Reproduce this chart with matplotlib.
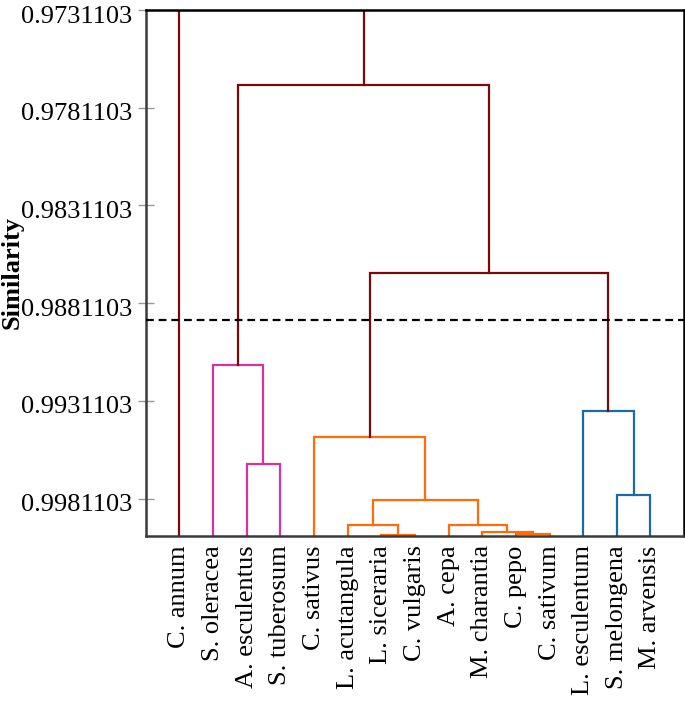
import matplotlib.pyplot as plt
import matplotlib.transforms as mtransforms

# leaves, left to right
species = ["C. annum", "S. oleracea", "A. esculentus", "S. tuberosum", "C. sativus",
           "L. acutangula", "L. siceraria", "C. vulgaris", "A. cepa", "M. charantia",
           "C. pepo", "C. sativum", "L. esculentum", "S. melongena", "M. arvensis"]

# merges: (node a, node b, similarity, cluster); new node ids start at len(species)
merge_a = [6, 10, 9, 5, 8, 18, 4, 13, 12, 2, 1, 21, 25, 0]
merge_b = [7, 11, 16, 15, 17, 19, 20, 14, 22, 3, 24, 23, 26, 27]
merge_sim = [0.99996, 0.99992, 0.99982, 0.99948, 0.99945, 0.99819, 0.99496,
             0.99795, 0.99363, 0.99636, 0.99128, 0.98659, 0.97695, 0.9731103]
merge_group = ["orange", "orange", "orange", "orange", "orange", "orange", "orange",
               "blue", "blue", "pink", "pink", "top", "top", "top"]

y_ticks = [0.9731103, 0.9781103, 0.9831103, 0.9881103, 0.9931103, 0.9981103]
cut_level = 0.988975

colors = {"top": "#7a0a0a", "pink": "#d433a8", "orange": "#ff6c0a", "blue": "#1c6aa3"}

plt.rcParams["font.family"] = ["Liberation Serif", "DejaVu Serif"]

fig = plt.figure(figsize=(6.85, 7.05), dpi=100)
ax = fig.add_axes([0.2127, 0.2404, 0.786, 0.7454])

pos = {i: float(i) for i in range(len(species))}
height = {i: 1.0 for i in range(len(species))}
for k in range(len(merge_a)):
    a, b, h = merge_a[k], merge_b[k], merge_sim[k]
    node = len(species) + k
    ax.plot([pos[a], pos[a], pos[b], pos[b]], [height[a], h, h, height[b]],
            color=colors[merge_group[k]], lw=1.6, solid_joinstyle="miter", zorder=2)
    pos[node] = (pos[a] + pos[b]) / 2
    height[node] = h

ax.axhline(cut_level, color="black", lw=1.6, ls=(0, (3.5, 2.2)), zorder=3)

ax.set_xlim(-1, 15)
ax.set_ylim(1.0, 0.9731103)

ax.set_yticks(y_ticks)
ax.set_yticklabels([f"{t:.7f}" for t in y_ticks], fontsize=19)
ax.tick_params(axis="y", direction="inout", length=11, width=1, color="#999999", pad=4)
offset = mtransforms.ScaledTranslation(0, -4 / 100, fig.dpi_scale_trans)
for lab in ax.get_yticklabels():
    lab.set_transform(lab.get_transform() + offset)

ax.set_xticks(range(len(species)))
ax.set_xticklabels(species, rotation=90, fontsize=19)
ax.tick_params(axis="x", length=0, pad=7)

# label sits over the left part of the tick labels, as in the source figure
ax.set_ylabel("Similarity", fontsize=19, fontweight="bold")
ax.yaxis.set_label_coords(-0.226, 0.5)

for side in ["top", "right"]:
    ax.spines[side].set_color("black")
    ax.spines[side].set_linewidth(1.8)
for side in ["left", "bottom"]:
    ax.spines[side].set_color("#3a3a3a")
    ax.spines[side].set_linewidth(1.8)

fig.savefig("out.png", dpi=100)
